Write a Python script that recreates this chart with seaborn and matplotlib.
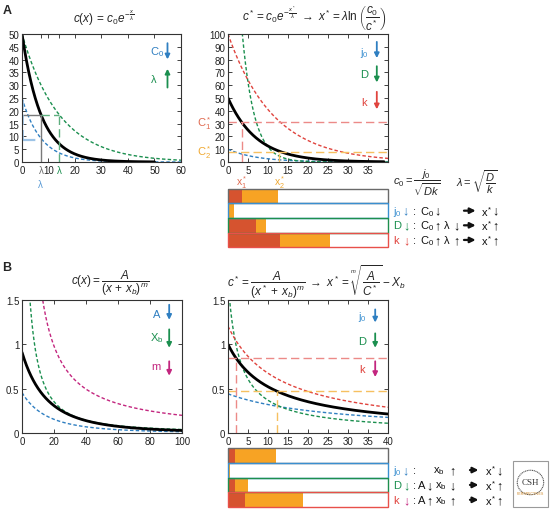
import numpy as np
import matplotlib.pyplot as plt
import matplotlib.patches as mpatches
import seaborn as sns

sns.set_style("ticks")
plt.rcParams["font.family"] = ["Liberation Sans", "DejaVu Sans"]
plt.rcParams["mathtext.fontset"] = "custom"
plt.rcParams["mathtext.rm"] = "Liberation Sans"
plt.rcParams["mathtext.it"] = "Liberation Sans:italic"
plt.rcParams["mathtext.bf"] = "Liberation Sans:bold"

# ---- panel A: exponential gradient, parameters
A_L_C0 = [50, 25, 50]          # black, C0 down, lambda up
A_L_LAM = [7.2, 7.2, 14.1]
A_L_XMAX = [50, 60, 60]
A_L_GUIDE_Y = [18.4, 8.5]      # c at lambda (black / blue)

A_R_C0 = [50, 10, 330, 100]     # black, j0 down, D down, k down
A_R_LAM = [7.2, 7.2, 3.0, 11.2]
A_CSTAR = [31, 8]               # C1*, C2*
A_XSTAR = [3.4, 12.8]           # x1*, x2*

BAR_ROWS = ["base", "j0", "D", "k"]
A_BAR_X1 = [3.5, 0, 7, 13]
A_BAR_X2 = [12.5, 1.5, 9.5, 25.5]

# ---- panel B: power-law gradient c(x) = A / (x + xb)^m
B_L_A = [88600, 44300, 42.3, 20]   # black, A down, xb down, m down
B_L_XB = [46, 46, 4.3, 0.4]
B_L_M = [3, 3, 1.5, 1]

B_R_A = [10.9, 11.7, 4.7, 15.3]    # black, j0 down, D down, k down
B_R_XB = [10.9, 26.5, 2.73, 12.7]
B_R_M = [1, 1, 1, 1]
B_CSTAR = [0.85, 0.47]
B_XSTAR = [1.9, 12.3]

B_BAR_X1 = [1.75, 0, 1.75, 4.25]
B_BAR_X2 = [12, 0.5, 5, 18.75]

BLUE = "#2f7fc1"
GREEN = "#1b8f4f"
RED = "#e0443e"
MAGENTA = "#c3267f"
BAR_RED = "#d6532f"
BAR_ORANGE = "#f7a324"
ROW_EDGES = ["#6a6a6a", "#3a8fd0", "#1d8f4e", "#e8504a"]
SHORT = (0, (2.5, 1.6))
LONG = (0, (6, 3))

fig = plt.figure(figsize=(5.5, 5.1), dpi=100)


def px_axes(x0, x1, y0, y1):
    return fig.add_axes([x0 / 550, 1 - y1 / 510, (x1 - x0) / 550, (y1 - y0) / 510])


def style(ax):
    ax.tick_params(direction="in", top=True, right=True, length=3, width=0.6,
                   labelsize=7, pad=2, colors="#222222")
    for s in ax.spines.values():
        s.set_linewidth(0.8)
        s.set_color("#333333")


def curve(ax, x, y, color, lw=1.0, ls=SHORT):
    sns.lineplot(x=x, y=y, ax=ax, color=color, linewidth=lw, linestyle=ls, sort=False)


def arrow(ax, x, y0, y1, color):
    ax.annotate("", xy=(x, y1), xytext=(x, y0), xycoords="axes fraction",
                arrowprops=dict(arrowstyle="-|>", color=color, lw=1.3, mutation_scale=7))


def bars(ax, x1, x2):
    sns.barplot(x=x2, y=BAR_ROWS, orient="h", color=BAR_ORANGE, saturation=1,
                width=1, linewidth=0, ax=ax)
    sns.barplot(x=x1, y=BAR_ROWS, orient="h", color=BAR_RED, saturation=1,
                width=1, linewidth=0, ax=ax)
    n = len(ax.patches)
    sns.barplot(x=[40] * 4, y=BAR_ROWS, orient="h", fill=False, color="gray",
                width=1, linewidth=1, ax=ax)
    for p, ec in zip(ax.patches[n:], ROW_EDGES):
        p.set_edgecolor(ec)
        p.set_clip_on(False)
    ax.set_xlim(0, 40)
    ax.set_ylim(3.55, -0.55)
    ax.axis("off")


def row_text(ax, y, items):
    for x, s, c in items:
        is_arrow = s in ("↓", "↑")
        ax.text(x, y, s, color=c, fontsize=9 if is_arrow else 8,
                fontweight="bold" if is_arrow else "normal",
                ha="left", va="center", clip_on=False)


def big_arrow(ax, y, x0, x1):
    ax.annotate("", xy=(x1, y), xytext=(x0, y), xycoords="data",
                arrowprops=dict(arrowstyle="-|>", color="#111111", lw=1.6,
                                mutation_scale=8), annotation_clip=False)


# ================= A left
ax = px_axes(22, 181, 35, 163)
for c0, lam, xm, col in zip(A_L_C0[1:], A_L_LAM[1:], A_L_XMAX[1:], [BLUE, GREEN]):
    x = np.linspace(0, xm, 300)
    curve(ax, x, c0 * np.exp(-x / lam), col)
x = np.linspace(0, A_L_XMAX[0], 300)
curve(ax, x, A_L_C0[0] * np.exp(-x / A_L_LAM[0]), "black", lw=2, ls="-")
ax.plot([A_L_LAM[0]] * 2, [0, A_L_GUIDE_Y[0]], color="#7a7a7a", lw=1)
ax.plot([0, A_L_LAM[0]], [A_L_GUIDE_Y[0]] * 2, color="#7a7a7a", lw=1)
ax.plot([A_L_LAM[0], A_L_LAM[2]], [A_L_GUIDE_Y[0]] * 2, color="#5fae7f", lw=1, ls=LONG)
ax.plot([A_L_LAM[2]] * 2, [0, A_L_GUIDE_Y[0]], color="#5fae7f", lw=1, ls=LONG)
ax.plot([0, A_L_LAM[1]], [A_L_GUIDE_Y[1]] * 2, color="#9cc3e6", lw=1.6, ls=LONG)
ax.plot([0.4, 0.4], [A_L_GUIDE_Y[1], A_L_C0[1]], color="#9cc3e6", lw=1.2, ls=LONG)
ax.set_xlim(0, 60)
ax.set_ylim(0, 50)
ax.set_yticks(range(0, 51, 5))
ax.set_xticks([0, A_L_LAM[0], 10, A_L_LAM[2], 20, 30, 40, 50, 60])
ax.set_xticklabels(["0", "λ", "10", "λ", "20", "30", "40", "50", "60"])
style(ax)
tl = ax.get_xticklabels()
tl[1].set_color("#6a6a6a")
tl[3].set_color(GREEN)
ax.text(0.113, -0.17, "λ", color="#5b9bd5", fontsize=7, transform=ax.transAxes,
        ha="center", va="center")
ax.text(0.85, 0.865, "C$_0$", color=BLUE, fontsize=8, transform=ax.transAxes,
        ha="center", va="center")
arrow(ax, 0.915, 0.95, 0.78, BLUE)
ax.text(0.83, 0.65, "λ", color=GREEN, fontsize=8, transform=ax.transAxes,
        ha="center", va="center")
arrow(ax, 0.915, 0.56, 0.75, GREEN)

# ================= A right
ax = px_axes(228, 388, 35, 163)
x = np.linspace(0, 40, 400)
for c0, lam, col in zip(A_R_C0[1:], A_R_LAM[1:], [BLUE, GREEN, RED]):
    curve(ax, x, c0 * np.exp(-x / lam), col)
x = np.linspace(0, 39, 300)
curve(ax, x, A_R_C0[0] * np.exp(-x / A_R_LAM[0]), "black", lw=2, ls="-")
ax.axhline(A_CSTAR[0], color="#ec8a88", lw=1, ls=LONG)
ax.axhline(A_CSTAR[1], color="#f6c060", lw=1, ls=LONG)
ax.plot([A_XSTAR[0]] * 2, [0, A_CSTAR[0]], color="#ec8a88", lw=1, ls=LONG)
ax.plot([A_XSTAR[1]] * 2, [0, A_CSTAR[1]], color="#f6c060", lw=1, ls=LONG)
ax.set_xlim(0, 40)
ax.set_ylim(0, 100)
ax.set_yticks(range(0, 101, 10))
ax.set_xticks(range(0, 36, 5))
style(ax)
ax.text(-0.15, A_CSTAR[0], "C$^*_1$", color="#e06a50", fontsize=8,
        transform=ax.get_yaxis_transform(), ha="center", va="center")
ax.text(-0.15, A_CSTAR[1], "C$^*_2$", color="#f0a830", fontsize=8,
        transform=ax.get_yaxis_transform(), ha="center", va="center")
ax.text(A_XSTAR[0], -0.15, "x$^*_1$", color="#e06a50", fontsize=7.5,
        transform=ax.get_xaxis_transform(), ha="center", va="center")
ax.text(A_XSTAR[1], -0.15, "x$^*_2$", color="#f0a830", fontsize=7.5,
        transform=ax.get_xaxis_transform(), ha="center", va="center")
for lab, col, acol, yt, ya in [("j$_0$", "#3a8fd0", BLUE, 0.86, (0.96, 0.79)),
                               ("D", GREEN, GREEN, 0.69, (0.77, 0.60)),
                               ("k", RED, RED, 0.47, (0.57, 0.39))]:
    ax.text(0.85, yt, lab, color=col, fontsize=8, transform=ax.transAxes,
            ha="center", va="center")
    arrow(ax, 0.93, ya[0], ya[1], acol)

# ================= A bars
ax = px_axes(228, 388, 189, 249)
bars(ax, A_BAR_X1, A_BAR_X2)
k = "#111111"
row_text(ax, 1, [(41.2, "j$_0$", "#3a8fd0"), (43.6, "↓", BLUE), (46.3, ":", k),
                 (48, "C$_0$", k), (51.6, "↓", k), (63.2, "x$^*$", k), (66.2, "↓", k)])
row_text(ax, 2, [(41.2, "D", GREEN), (43.8, "↓", GREEN), (46.3, ":", k),
                 (48, "C$_0$", k), (51.6, "↑", k), (54, "λ", k), (56.3, "↓", k),
                 (63.2, "x$^*$", k), (66.2, "↑", k)])
row_text(ax, 3, [(41.2, "k", RED), (43.8, "↓", RED), (46.3, ":", k),
                 (48, "C$_0$", k), (51.6, "↑", k), (54, "λ", k), (56.3, "↑", k),
                 (63.2, "x$^*$", k), (66.2, "↑", k)])
for r in (1, 2, 3):
    big_arrow(ax, r, 58.3, 62.6)

# ================= B left
ax = px_axes(22, 182, 301, 434)
x = np.linspace(0, 100, 500)
for a, xb, m, col in zip(B_L_A[1:], B_L_XB[1:], B_L_M[1:], [BLUE, GREEN, MAGENTA]):
    curve(ax, x, a / (x + xb) ** m, col)
curve(ax, x, B_L_A[0] / (x + B_L_XB[0]) ** B_L_M[0], "black", lw=2, ls="-")
ax.set_xlim(0, 100)
ax.set_ylim(0, 1.5)
ax.set_xticks(range(0, 101, 20))
ax.set_yticks([0, 0.5, 1, 1.5])
ax.set_yticklabels(["0", "0.5", "1", "1.5"])
style(ax)
for lab, col, yt, ya in [("A", BLUE, 0.895, (0.985, 0.83)),
                         ("X$_\\mathrm{b}$", GREEN, 0.72, (0.80, 0.62)),
                         ("m", MAGENTA, 0.50, (0.56, 0.41))]:
    ax.text(0.84, yt, lab, color=col, fontsize=8, transform=ax.transAxes,
            ha="center", va="center")
    arrow(ax, 0.92, ya[0], ya[1], col)

# ================= B right
ax = px_axes(228, 388, 301, 434)
x = np.linspace(0, 40, 400)
for a, xb, m, col in zip(B_R_A[1:], B_R_XB[1:], B_R_M[1:], [BLUE, GREEN, RED]):
    curve(ax, x, a / (x + xb) ** m, col)
curve(ax, x, B_R_A[0] / (x + B_R_XB[0]) ** B_R_M[0], "black", lw=2, ls="-")
ax.axhline(B_CSTAR[0], color="#ec8a88", lw=1, ls=LONG)
ax.axhline(B_CSTAR[1], color="#f6c060", lw=1, ls=LONG)
ax.plot([B_XSTAR[0]] * 2, [0, B_CSTAR[0]], color="#ec8a88", lw=1, ls=LONG)
ax.plot([B_XSTAR[1]] * 2, [0, B_CSTAR[1]], color="#f6c060", lw=1, ls=LONG)
ax.set_xlim(0, 40)
ax.set_ylim(0, 1.5)
ax.set_xticks(range(0, 41, 5))
ax.set_yticks([0, 0.5, 1, 1.5])
ax.set_yticklabels(["0", "0.5", "1", "1.5"])
style(ax)
for lab, col, acol, yt, ya in [("j$_0$", "#3a8fd0", BLUE, 0.88, (0.95, 0.81)),
                               ("D", GREEN, GREEN, 0.69, (0.77, 0.62)),
                               ("k", RED, MAGENTA, 0.48, (0.56, 0.40))]:
    ax.text(0.84, yt, lab, color=col, fontsize=8, transform=ax.transAxes,
            ha="center", va="center")
    arrow(ax, 0.92, ya[0], ya[1], acol)

# ================= B bars
ax = px_axes(228, 388, 448, 509)
bars(ax, B_BAR_X1, B_BAR_X2)
row_text(ax, 1, [(41.2, "j$_0$", "#3a8fd0"), (43.6, "↓", BLUE), (46.2, ":", k),
                 (51.2, "x$_\\mathrm{b}$", k), (55.3, "↑", k),
                 (64.2, "x$^*$", k), (67.2, "↓", k)])
row_text(ax, 2, [(41.2, "D", GREEN), (43.8, "↓", GREEN), (46.2, ":", k),
                 (47.6, "A", k), (49.6, "↓", k), (51.8, "x$_\\mathrm{b}$", k),
                 (55.3, "↓", k), (64.2, "x$^*$", k), (67.2, "↑", k)])
row_text(ax, 3, [(41.2, "k", RED), (43.8, "↓", MAGENTA), (46.2, ":", k),
                 (47.6, "A", k), (49.6, "↑", k), (51.8, "x$_\\mathrm{b}$", k),
                 (55.3, "↑", k), (64.2, "x$^*$", k), (67.2, "↑", k)])
for r in (1, 2, 3):
    big_arrow(ax, r, 59.8, 63.3)

# ================= equations and panel letters
fs = 8.5
fig.text(0.188, 0.963, r"$c(x)\,=\,c_0e^{-\frac{x}{\lambda}}$", fontsize=fs,
         ha="center", va="center")
fig.text(0.571, 0.965,
         r"$c^*=c_0e^{-\frac{x^*}{\lambda}}\ \rightarrow\ x^*=\lambda\ln\left(\dfrac{c_0}{c^*}\right)$",
         fontsize=fs, ha="center", va="center")
fig.text(0.758, 0.641, r"$c_0=\dfrac{j_0}{\sqrt{Dk}}$", fontsize=8,
         ha="center", va="center")
fig.text(0.868, 0.643, r"$\lambda=\sqrt{\dfrac{D}{k}}$", fontsize=8,
         ha="center", va="center")
fig.text(0.2, 0.445, r"$c(x)=\dfrac{A}{(x\,+\,x_b)^m}$", fontsize=fs,
         ha="center", va="center")
fig.text(0.575, 0.447,
         r"$c^*=\dfrac{A}{(x^*\,+\,x_b)^m}\ \rightarrow\ x^*=\sqrt[m]{\dfrac{A}{C^*}}-X_b$",
         fontsize=fs, ha="center", va="center")
fig.text(0.004, 0.978, "A", fontsize=9, fontweight="bold", ha="left", va="center")
fig.text(0.004, 0.475, "B", fontsize=9, fontweight="bold", ha="left", va="center")

# CSH logo box
fig.patches.append(mpatches.Rectangle((0.933, 0.004), 0.063, 0.09, transform=fig.transFigure,
                                      fill=False, edgecolor="#9a9a9a", lw=0.8))
fig.patches.append(mpatches.Circle((0.9645, 0.052), 0.024, transform=fig.transFigure,
                                   fill=False, edgecolor="#555555", lw=0.8, ls=(0, (1, 0.6))))
fig.text(0.9645, 0.053, "CSH", fontsize=6.5, family="Liberation Serif",
         ha="center", va="center", color="#333333")
fig.text(0.9645, 0.031, "PERSPECTIVES", fontsize=2.6, ha="center", va="center",
         color="#d08a2a")

fig.savefig("out.png", dpi=100)
